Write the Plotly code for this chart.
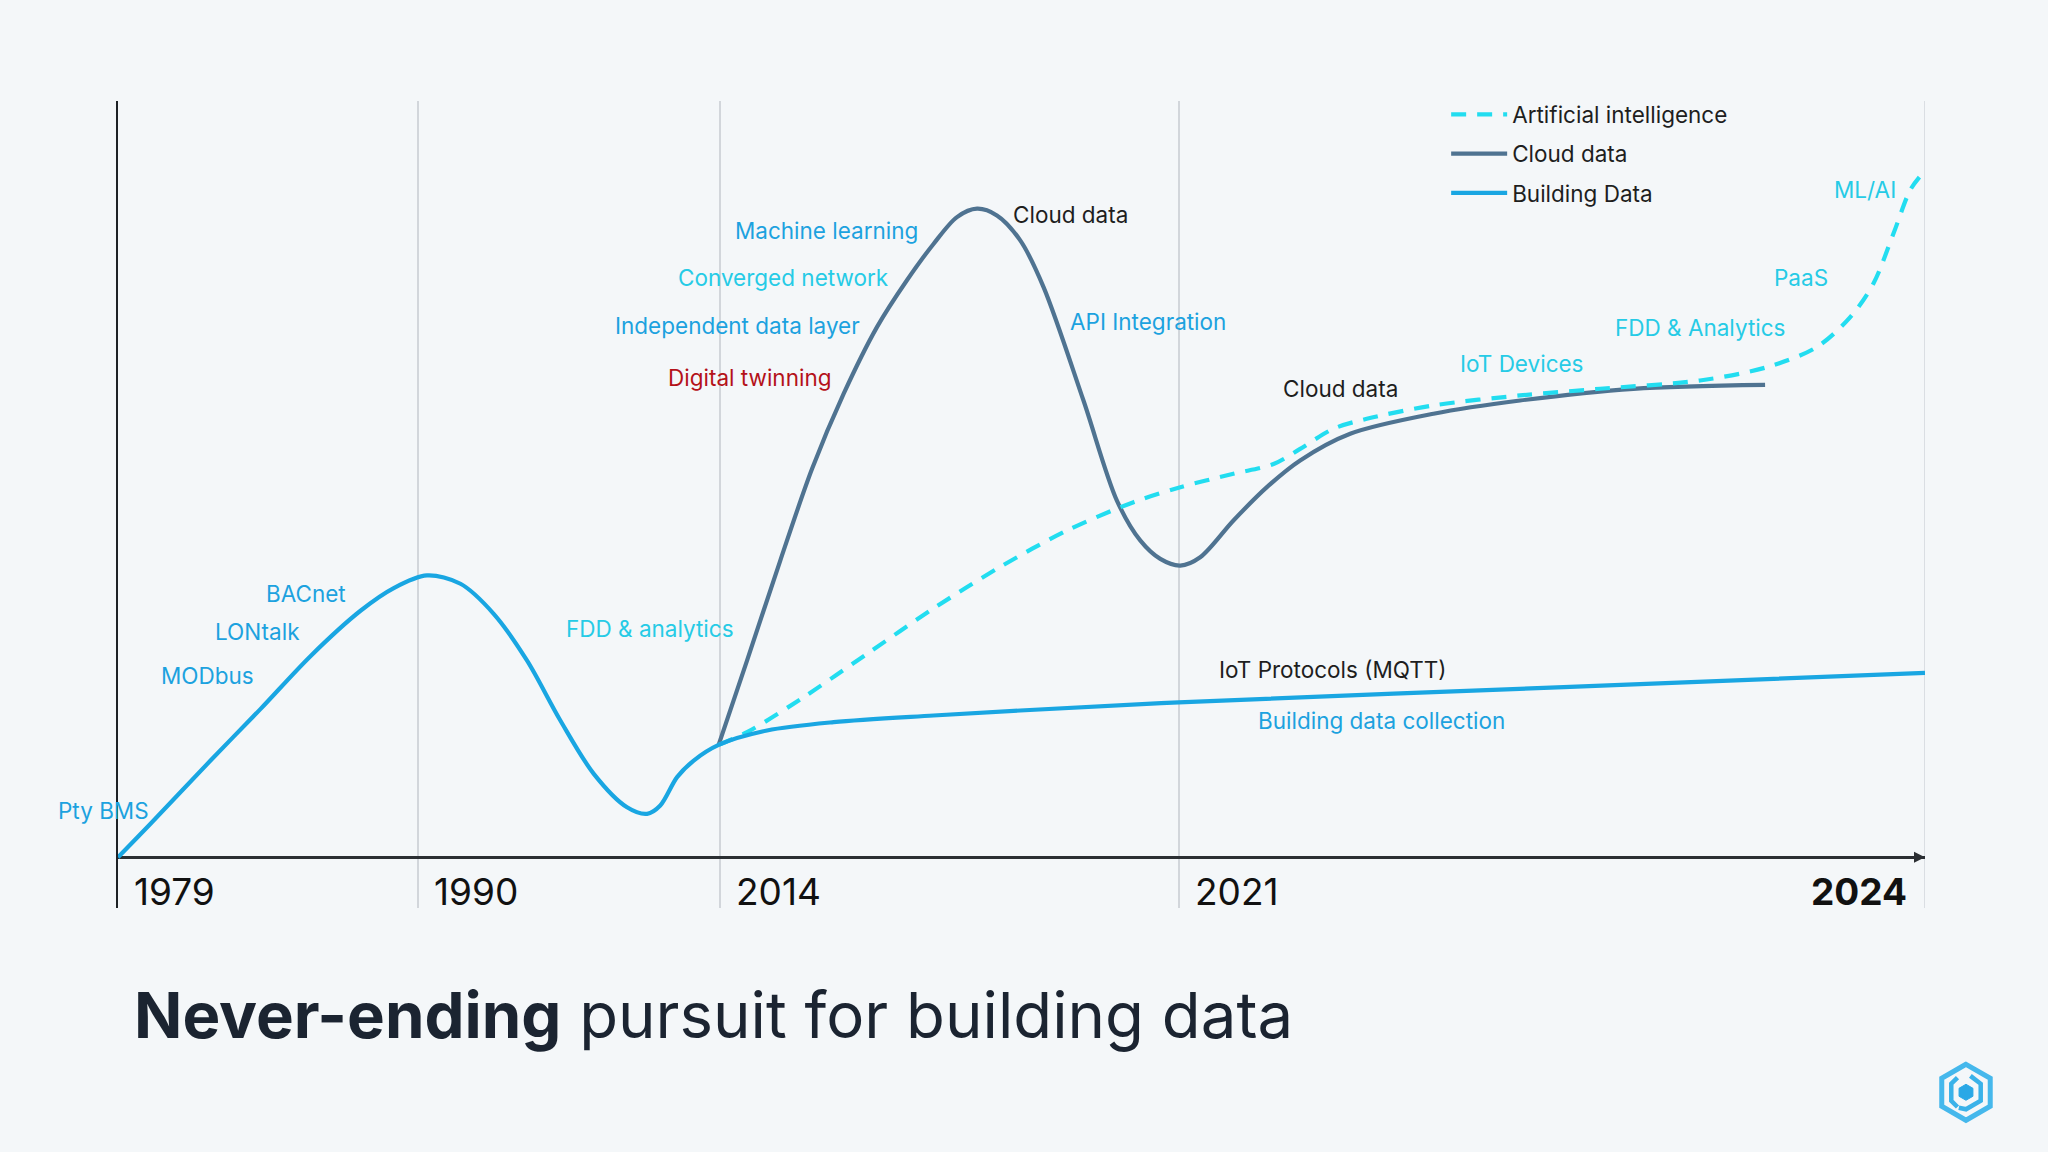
import plotly.graph_objects as go
import math

# ---------------- data (timeline position 0-100, level 0-100) ----------------
tick_pos = [0, 16.6, 33.3, 58.7, 100]
tick_years = ["1979", "1990", "2014", "2021", "2024"]

building_x = [0, 1.8, 5.12, 7.88, 10.65, 13.42, 15.26, 17.1, 18.95, 20.79, 22.64, 24.48, 26.33, 28.17,
              29.28, 30.01, 30.94, 31.86, 33.24, 35.92, 39.6, 45.13, 49.93, 58.7, 80.0, 100]
building_y = [0, 4.43, 12.8, 19.6, 26.6, 32.6, 35.6, 37.27, 36.17, 32.2, 26.0, 18.09, 11.04, 6.62,
              5.75, 6.85, 10.6, 12.8, 14.87, 16.77, 17.87, 18.75, 19.41, 20.5, 22.5, 24.4]

cloud_x = [33.24, 34.81, 36.65, 38.41, 40.16, 42.0, 43.66, 45.13, 46.43, 47.54, 48.64, 49.93, 51.22,
           53.43, 55.28, 56.57, 57.68, 58.79, 59.89, 61.73, 63.58, 65.42, 68.19, 72.8, 77.59, 83.86, 91.15]
cloud_y = [14.87, 26.0, 39.24, 51.37, 61.3, 70.1, 76.3, 81.1, 84.65, 85.76, 84.87, 81.57, 75.4,
           60.4, 47.17, 41.9, 39.46, 38.58, 39.68, 44.54, 48.94, 52.47, 56.0, 58.65, 60.4, 61.95, 62.47]

ai_x = [33.24, 34.81, 37.77, 41.45, 45.13, 48.82, 52.51, 56.2, 58.79, 61.73, 63.95, 65.42, 67.26, 69.11,
        72.8, 77.59, 82.02, 87.55, 91.24, 94.0, 95.85, 97.14, 98.25, 99.17, 99.69]
ai_y = [14.87, 16.54, 20.9, 26.9, 32.9, 38.4, 43.2, 46.96, 48.94, 50.71, 52.0, 54.0, 56.66, 57.98,
        59.75, 61.07, 61.95, 63.05, 64.8, 67.45, 71.4, 75.84, 82.45, 88.18, 89.94]

# labels: text, x, y, anchor, colour key
label_text = ["Pty BMS", "MODbus", "LONtalk", "BACnet", "FDD & analytics",
              "Machine learning", "Converged network", "Independent data layer", "Digital twinning",
              "Cloud data", "API Integration", "Cloud data", "IoT Devices", "FDD & Analytics",
              "PaaS", "ML/AI", "IoT Protocols (MQTT)", "Building data collection"]
label_x = [1.81, 7.66, 10.19, 12.72, 34.18, 44.36, 42.77, 41.18, 39.6,
           49.42, 52.6, 64.38, 74.13, 82.73, 91.55, 94.87, 60.84, 63.0]
label_y = [6.2, 24.0, 29.9, 34.9, 30.2, 82.9, 76.7, 70.3, 63.4,
           85.0, 70.8, 62.0, 65.3, 70.1, 76.7, 88.3, 24.9, 18.1]
label_anchor = ["right", "right", "right", "right", "right", "right", "right", "right", "right",
                "left", "left", "left", "left", "left", "left", "left", "left", "left"]
label_kind = ["blue", "blue", "blue", "blue", "cyan", "blue", "cyan", "blue", "red",
              "dark", "blue", "dark", "cyan", "cyan", "cyan", "cyan", "dark", "blue"]

# ---------------- style ----------------
W, H = 2048, 1152
ML, MR, MT, MB = 117.5, 123, 100.6, 244.3
BG = "#F4F7F9"
FONT = "Inter, Lato, sans-serif"
C_BUILD = "#19A6E2"
C_CLOUD = "#4F7391"
C_AI = "#22DDF0"
GRID = "#D2D6DB"
LABEL_COL = {"blue": "#1CA2DF", "cyan": "#26CBE6", "red": "#B4121A", "dark": "#1E1E1E"}

fig = go.Figure()
fig.add_trace(go.Scatter(x=cloud_x, y=cloud_y, mode="lines", name="Cloud data",
                         legendrank=2, legendgroup="cloud",
                         line=dict(color=C_CLOUD, width=4.2, shape="spline", smoothing=0.9),
                         hoverinfo="skip"))
fig.add_trace(go.Scatter(x=ai_x, y=ai_y, mode="lines", name="Artificial intelligence",
                         legendrank=1, legendgroup="ai",
                         line=dict(color=C_AI, width=4.2, dash="15px,11px", shape="spline", smoothing=0.9),
                         hoverinfo="skip"))
fig.add_trace(go.Scatter(x=building_x, y=building_y, mode="lines", name="Building Data",
                         legendrank=3, legendgroup="building",
                         line=dict(color=C_BUILD, width=4.2, shape="spline", smoothing=0.9),
                         hoverinfo="skip"))

annotations = []
for t, x, y, a, k in zip(label_text, label_x, label_y, label_anchor, label_kind):
    annotations.append(dict(x=x, y=y, text=t, showarrow=False, xanchor=a, yanchor="middle",
                            font=dict(family=FONT, size=22.5, color=LABEL_COL[k])))

# year labels under the axis
for i, (p, yr) in enumerate(zip(tick_pos, tick_years)):
    last = i == len(tick_pos) - 1
    annotations.append(dict(x=p, y=-4.5, text=("<b>%s</b>" % yr) if last else yr, showarrow=False,
                            xanchor="right" if last else "left", xshift=-16 if last else 14,
                            yanchor="middle", font=dict(family=FONT, size=37, color="#111111")))

# axis arrow
annotations.append(dict(x=100, y=0, ax=-20, ay=0, text="", showarrow=True, arrowhead=2,
                        arrowsize=1, arrowwidth=2.2, arrowcolor="#2B2F33"))

# logo (decorative) in pixel coords -> paper coords
pw, ph = W - ML - MR, H - MT - MB


def to_paper(px, py):
    return (px - ML) / pw, (H - MB - py) / ph


def hex_path(cx, cy, r, angles, close):
    pts = []
    for ang in angles:
        a = math.radians(ang)
        pts.append(to_paper(cx + r * math.cos(a), cy - r * math.sin(a)))
    d = "M %.5f,%.5f " % pts[0] + " ".join("L %.5f,%.5f" % p for p in pts[1:])
    return d + (" Z" if close else "")


cx, cy = 1966, 1092
shapes = [
    # right-edge gridline (2024)
    dict(type="line", xref="x", yref="paper", x0=tick_pos[-1], x1=tick_pos[-1], y0=0, y1=1,
         line=dict(color=GRID, width=1.5), layer="below"),
    dict(type="path", xref="paper", yref="paper", path=hex_path(cx, cy, 28, [90, 150, 210, 270, 330, 30], True),
         line=dict(color="#45B8EC", width=5), fillcolor="rgba(0,0,0,0)"),
    dict(type="path", xref="paper", yref="paper", path=hex_path(cx, cy, 8, [90, 150, 210, 270, 330, 30], True),
         line=dict(color="#2AA8E6", width=1), fillcolor="#2AA8E6"),
    dict(type="path", xref="paper", yref="paper", path=hex_path(cx, cy, 17, [120, 150, 210, 240], False),
         line=dict(color="#3AB2E9", width=4.5)),
    dict(type="path", xref="paper", yref="paper", path=hex_path(cx, cy, 17, [75, 30, 330, 270, 245], False),
         line=dict(color="#3AB2E9", width=4.5)),
]

fig.update_layout(
    width=W, height=H,
    margin=dict(l=ML, r=MR, t=MT, b=MB),
    paper_bgcolor=BG, plot_bgcolor=BG,
    font=dict(family=FONT, color="#1E1E1E"),
    title=dict(text="<b>Never-ending</b> pursuit for building data", x=134 / W, xanchor="left",
               y=(H - 1016) / H, yanchor="middle", xref="container", yref="container",
               font=dict(family=FONT, size=63.5, color="#1B2431")),
    xaxis=dict(range=[0, 100], tickvals=tick_pos[1:], showticklabels=False, ticks="",
               showgrid=True, gridcolor=GRID, gridwidth=1.5, zeroline=False, showline=False,
               fixedrange=True),
    yaxis=dict(range=[-6.7, 100], showticklabels=False, ticks="", showgrid=False,
               zeroline=True, zerolinecolor="#2B2F33", zerolinewidth=2.5,
               showline=True, linecolor="#1E2226", linewidth=1.5, fixedrange=True),
    legend=dict(x=0.735, y=1.0097, xanchor="left", yanchor="top", bgcolor="rgba(0,0,0,0)",
                font=dict(family=FONT, size=22.5, color="#1E1E1E"), itemwidth=56,
                traceorder="grouped", tracegroupgap=7),
    annotations=annotations,
    shapes=shapes,
    showlegend=True,
)

fig.write_html("out.html")
